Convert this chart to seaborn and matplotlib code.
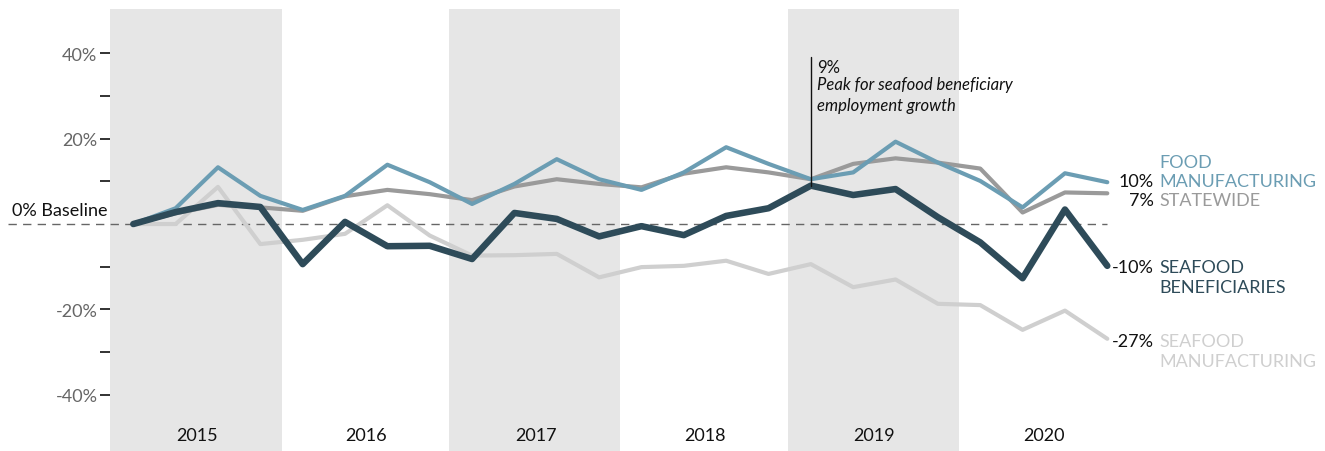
import numpy as np
import pandas as pd
import matplotlib
matplotlib.use("Agg")
import matplotlib.pyplot as plt
import seaborn as sns

# -- data: quarterly employment change since 2015 Q1 (%) --
years = [2015, 2016, 2017, 2018, 2019, 2020]
quarters = list(range(24))

food_manufacturing = [0, 3.7, 13.3, 6.6, 3.3, 6.6, 13.9, 9.8, 4.7, 9.4, 15.2, 10.5,
                      8.0, 12.1, 18.0, 14.1, 10.5, 12.1, 19.3, 14.4, 10.1, 3.9, 11.9, 9.8]
statewide = [0, 2.5, 4.5, 3.9, 3.1, 6.5, 8.0, 7.0, 5.6, 8.8, 10.5, 9.4,
             8.6, 11.8, 13.3, 12.1, 10.5, 14.1, 15.4, 14.4, 13.0, 2.7, 7.4, 7.2]
seafood_beneficiaries = [0, 2.8, 4.9, 4.0, -9.4, 0.5, -5.2, -5.1, -8.2, 2.6, 1.2, -2.9,
                         -0.5, -2.6, 1.9, 3.7, 9.0, 6.8, 8.2, 1.6, -4.3, -12.7, 3.4, -9.8]
seafood_manufacturing = [0, 0, 8.7, -4.7, -3.7, -2.3, 4.4, -2.7, -7.4, -7.3, -7.0, -12.5,
                         -10.1, -9.8, -8.6, -11.7, -9.4, -14.8, -13.0, -18.7, -19.0, -24.8, -20.3, -26.9]

end_values = ["10%", "7%", "-10%", "-27%"]
end_names = ["FOOD\nMANUFACTURING", "STATEWIDE", "SEAFOOD\nBENEFICIARIES", "SEAFOOD\nMANUFACTURING"]

# -- styling --
sns.set_style("white")
plt.rcParams["font.family"] = ["Lato", "DejaVu Sans"]

BLUE = "#6b9db3"
GRAY = "#9a9a9a"
DARK = "#2e4b59"
LIGHT = "#cfcfcf"
SHADE = "#e6e6e6"

fig = plt.figure(figsize=(13.25, 4.52), dpi=100)
ax = fig.add_axes([110 / 1325, 0, 1010 / 1325, 442 / 452])
ax.set_xlim(-0.55, 23.3)
ax.set_ylim(-53.2, 50.4)

# alternating year shading
for k in range(0, len(years), 2):
    ax.axvspan(4 * k - 0.55, 4 * k + 3.5, color=SHADE, lw=0, zorder=0)
for k, yr in enumerate(years):
    ax.text(4 * k + 1.5, -49.4, str(yr), ha="center", va="center", fontsize=13, color="#111")

# baseline
ax.plot([-2.95, 23], [0, 0], ls=(0, (6, 4.5)), color="#666", lw=1, clip_on=False, zorder=1)
ax.text(-0.6, 1.5, "0% Baseline", ha="right", va="bottom", fontsize=13, color="#111")

df = pd.DataFrame({
    "q": quarters,
    "food": food_manufacturing,
    "state": statewide,
    "sfben": seafood_beneficiaries,
    "sfman": seafood_manufacturing,
})
sns.lineplot(data=df, x="q", y="sfman", color=LIGHT, lw=3, ax=ax, zorder=2)
sns.lineplot(data=df, x="q", y="state", color=GRAY, lw=3, ax=ax, zorder=3)
sns.lineplot(data=df, x="q", y="food", color=BLUE, lw=3, ax=ax, zorder=4)
sns.lineplot(data=df, x="q", y="sfben", color=DARK, lw=4.7, ax=ax, zorder=5)

# peak annotation
peak_i = int(np.argmax(seafood_beneficiaries))
ax.plot([peak_i, peak_i], [seafood_beneficiaries[peak_i], 39.2], color="#111", lw=1, zorder=6)
ax.text(peak_i + 0.15, 36.8, f"{seafood_beneficiaries[peak_i]:.0f}%", ha="left", va="center",
        fontsize=12, color="#111")
ax.text(peak_i + 0.15, 30.4, "Peak for seafood beneficiary\nemployment growth", ha="left",
        va="center", fontsize=12, style="italic", color="#111", linespacing=1.4)

# end labels
label_y = [10.1, 5.6, -10.1, -27.5]
colors = [BLUE, GRAY, DARK, LIGHT]
for val, name, y, c in zip(end_values, end_names, label_y, colors):
    ax.text(24.1, y, val, ha="right", va="center", fontsize=13, color="#111", clip_on=False)
    lines = name.split("\n")
    if len(lines) == 2:
        if c == BLUE:
            ax.text(24.23, y + 4.5, lines[0], ha="left", va="center", fontsize=13, color=c, clip_on=False)
            ax.text(24.23, y, lines[1], ha="left", va="center", fontsize=13, color=c, clip_on=False)
        else:
            ax.text(24.23, y, lines[0], ha="left", va="center", fontsize=13, color=c, clip_on=False)
            ax.text(24.23, y - 4.7, lines[1], ha="left", va="center", fontsize=13, color=c, clip_on=False)
    else:
        ax.text(24.23, y, name, ha="left", va="center", fontsize=13, color=c, clip_on=False)

# axes
ax.set_yticks([-40, -20, 20, 40])
ax.set_yticklabels(["-40%", "-20%", "20%", "40%"])
ax.set_yticks([-30, -10, 10, 30], minor=True)
ax.tick_params(axis="y", which="both", length=7, width=1.3, color="#222", labelsize=13,
               labelcolor="#666", pad=2, left=True)
ax.set_xticks([])
ax.set_xlabel("")
ax.set_ylabel("")
for s in ax.spines.values():
    s.set_visible(False)

plt.savefig("out.png", dpi=100)
